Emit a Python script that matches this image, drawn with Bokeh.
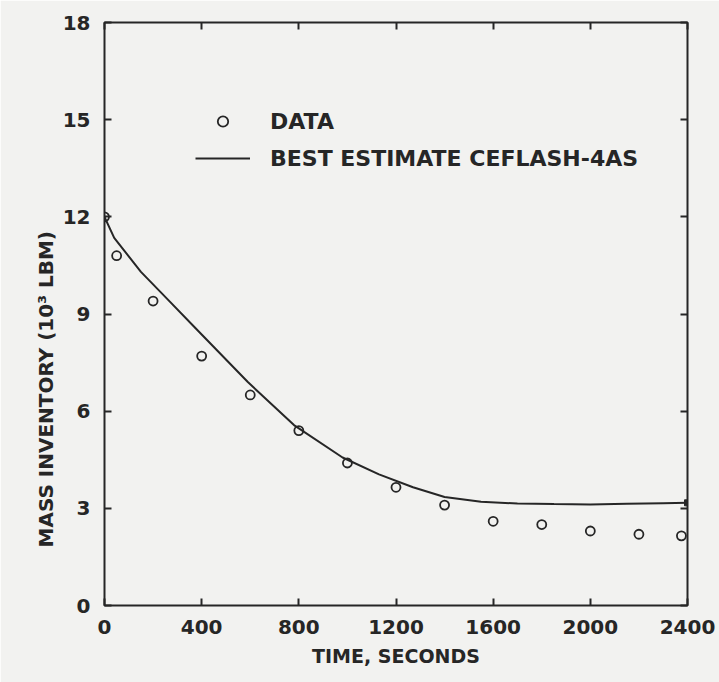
from bokeh.plotting import figure
from bokeh.models import (Legend, LegendItem, LinearAxis, FixedTicker, Range1d,
                          Title, CustomLabelingPolicy)
from bokeh.embed import file_html
from bokeh.resources import INLINE

# ---- data ----
data_time = [0, 50, 200, 400, 600, 800, 1000, 1200, 1400, 1600, 1800, 2000, 2200, 2375]
data_mass = [12.0, 10.8, 9.4, 7.7, 6.5, 5.4, 4.4, 3.65, 3.1, 2.6, 2.5, 2.3, 2.2, 2.15]

model_time = [0, 40, 150, 260, 370, 590, 780, 980, 1130, 1270, 1400, 1550, 1700,
              1850, 2000, 2150, 2300, 2400]
model_mass = [12.0, 11.35, 10.3, 9.45, 8.6, 6.9, 5.57, 4.57, 4.05, 3.65, 3.35, 3.2,
              3.15, 3.13, 3.12, 3.14, 3.16, 3.17]

x_ticks = [0, 400, 800, 1200, 1600, 2000, 2400]
y_ticks = [0, 3, 6, 9, 12, 15, 18]

x_title = "TIME, SECONDS"
y_title = "MASS INVENTORY (10\u00b3 LBM)"
data_name = "DATA"
model_name = "BEST ESTIMATE CEFLASH-4AS"

# ---- styling ----
INK = "#262626"
BG = "#f2f2f0"
FONT = "DejaVu Sans"

p = figure(width=719, height=682, x_range=Range1d(0, 2400), y_range=Range1d(0, 18),
           output_backend="svg", toolbar_location=None,
           min_border_left=104, min_border_right=32, min_border_top=22,
           min_border_bottom=77,
           background_fill_color=BG, border_fill_color=BG)
p.grid.visible = False
p.outline_line_color = INK
p.outline_line_width = 2

hide_all = CustomLabelingPolicy(
    code="const ids = [...indices]; for (const i of ids) indices.unset(i); return indices")


def style_axis(ax, ticks, show_labels):
    ax.ticker = FixedTicker(ticks=ticks)
    ax.major_tick_in = 7
    ax.major_tick_out = 0
    ax.major_tick_line_color = INK
    ax.major_tick_line_width = 2
    ax.minor_tick_line_color = None
    ax.axis_line_color = None
    ax.major_label_text_font = FONT
    ax.major_label_text_font_style = "bold"
    ax.major_label_text_color = INK
    if show_labels:
        ax.major_label_text_font_size = "20px"
        ax.major_label_standoff = 14
    else:
        ax.major_label_text_font_size = "1px"
        ax.major_label_standoff = 0
        ax.major_label_policy = hide_all


style_axis(p.xaxis[0], x_ticks, True)
style_axis(p.yaxis[0], y_ticks, True)
p.xaxis[0].axis_label = x_title
p.xaxis[0].axis_label_text_font = FONT
p.xaxis[0].axis_label_text_font_style = "bold"
p.xaxis[0].axis_label_text_font_size = "19px"
p.xaxis[0].axis_label_text_color = INK
p.xaxis[0].axis_label_standoff = 8

top_ax = LinearAxis()
style_axis(top_ax, x_ticks, False)
p.add_layout(top_ax, "above")
right_ax = LinearAxis()
style_axis(right_ax, y_ticks, False)
p.add_layout(right_ax, "right")

# y-axis title, shifted down like in the reference
p.add_layout(Title(text=y_title, align="left", offset=58, text_font=FONT,
                   text_font_style="bold", text_font_size="20px",
                   text_color=INK, standoff=4), "left")

line_r = p.line(model_time, model_mass, line_width=2, line_color=INK)
end_r = p.scatter([model_time[-1]], [model_mass[-1]], marker="square", size=6,
                  fill_color=INK, line_color=INK)
pts_r = p.scatter(data_time, data_mass, marker="circle", size=9,
                  fill_color=None, line_color=INK, line_width=1.8)

legend = Legend(items=[LegendItem(label=data_name, renderers=[pts_r]),
                       LegendItem(label=model_name, renderers=[line_r])],
                location=(91, 434), orientation="vertical",
                border_line_color=None, background_fill_alpha=0,
                padding=0, margin=0, spacing=11,
                glyph_width=55, glyph_height=26, label_height=26,
                label_standoff=20,
                label_text_font=FONT, label_text_font_style="bold",
                label_text_font_size="22px", label_text_color=INK)
p.add_layout(legend, "center")

open("out.html", "w").write(file_html(p, INLINE))
